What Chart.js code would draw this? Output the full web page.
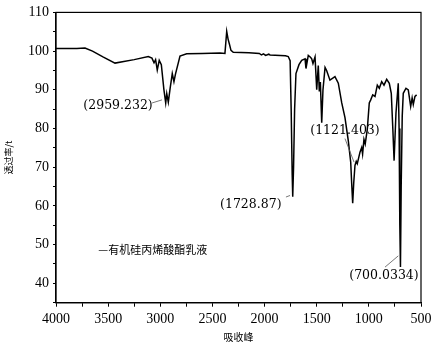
<!DOCTYPE html>
<html>
<head>
<meta charset="utf-8">
<script src="https://cdn.jsdelivr.net/npm/chart.js@4.4.0/dist/chart.umd.min.js"></script>
<style>
  html, body { margin: 0; padding: 0; background: #fff; }
  #wrap { width: 434px; height: 344px; position: relative; }
</style>
</head>
<body>
<div id="wrap"><canvas id="chart"></canvas></div>
<script>
// FTIR spectrum
const wavenumbers = [
  4000, 3900, 3800, 3722, 3650, 3550, 3434, 3350, 3250, 3115,
  3080, 3060, 3045, 3029, 3010, 2990, 2965, 2948, 2938, 2923,
  2905, 2885, 2869, 2855, 2811, 2747, 2600, 2427, 2380, 2363,
  2350, 2338, 2322, 2300, 2150, 2050, 2030, 2010, 1990, 1960,
  1948, 1800, 1773, 1755, 1745, 1735, 1730, 1722, 1712, 1699,
  1670, 1644, 1612, 1603, 1581, 1560, 1548, 1536, 1516, 1500,
  1485, 1475, 1465, 1452, 1440, 1420, 1405, 1373, 1325, 1293,
  1260, 1229, 1197, 1174, 1165, 1155, 1145, 1133, 1121, 1111,
  1085, 1069, 1060, 1047, 1035, 1015, 996, 982, 963, 941,
  919, 900, 877, 855, 829, 804, 785, 770, 758, 740,
  718, 710, 703, 697, 690, 680, 670, 644, 622, 599,
  585, 574, 558, 542
];
const transmittance = [
  100.7, 100.7, 100.7, 100.8, 100.0, 98.5, 96.9, 97.3, 97.8, 98.6,
  98.2, 97.0, 97.8, 95.1, 97.6, 96.5, 90.0, 86.6, 89.0, 86.8,
  90.5, 94.2, 92.1, 94.0, 98.7, 99.3, 99.4, 99.5, 99.4, 105.1,
  103.1, 101.9, 100.2, 99.7, 99.6, 99.4, 99.0, 99.3, 98.9, 99.2,
  99.0, 98.8, 98.6, 97.5, 85.0, 68.0, 62.4, 70.0, 85.0, 94.2,
  96.5, 97.6, 98.0, 95.5, 98.9, 98.4, 98.0, 96.8, 98.5, 90.0,
  96.3, 89.6, 92.0, 81.5, 90.0, 95.8, 95.0, 92.5, 93.4, 91.7,
  86.6, 82.8, 76.8, 71.3, 66.0, 60.7, 66.0, 70.5, 71.5, 70.9,
  73.9, 75.1, 73.4, 77.2, 76.0, 79.8, 86.6, 87.4, 88.7, 88.3,
  91.2, 90.4, 92.1, 91.2, 92.7, 91.7, 89.1, 79.8, 71.7, 84.0,
  91.7, 80.0, 55.0, 44.2, 65.0, 83.2, 89.1, 90.4, 90.0, 85.7,
  87.9, 86.2, 88.3, 88.7
];

// peak labels: text, text centre [wn, T], leader from [wn, T] to [wn, T]
const peakLabels = ['(2959.232)', '(1728.87)', '(1121.403)', '(700.0334)'];
const labelAt = [[3405, 85.9], [2132, 60.3], [1229, 79.4], [855, 42.0]];
const leaderFrom = [[3079, 86.6], [1795, 62.3], [1229, 77.4], [845, 44.2]];
const leaderTo = [[2984, 87.4], [1756, 62.7], [1142, 71.3], [718, 47.1]];

const seriesName = '—有机硅丙烯酸酯乳液';
const seriesNameAt = [3594, 48.7];

const serif = '"DejaVu Serif", "Liberation Serif", serif';
const tickSerif = '"Liberation Serif", serif';
const cjk = '"Noto Sans CJK SC", sans-serif';

const points = wavenumbers.map((w, i) => ({ x: w, y: transmittance[i] }));

const frameAndNotes = {
  id: 'frameAndNotes',
  afterDraw(chart) {
    const { ctx, chartArea: a, scales } = chart;
    const px = (p) => [scales.x.getPixelForValue(p[0]), scales.y.getPixelForValue(p[1])];
    ctx.save();
    ctx.strokeStyle = '#000';
    ctx.lineWidth = 1.2;
    ctx.strokeRect(a.left, a.top, a.right - a.left, a.bottom - a.top);

    ctx.strokeStyle = '#555';
    ctx.lineWidth = 0.8;
    leaderFrom.forEach((f, i) => {
      const p1 = px(f);
      const p2 = px(leaderTo[i]);
      ctx.beginPath();
      ctx.moveTo(p1[0], p1[1]);
      ctx.lineTo(p2[0], p2[1]);
      ctx.stroke();
    });

    ctx.fillStyle = '#000';
    ctx.font = '12.5px ' + serif;
    ctx.textAlign = 'center';
    ctx.textBaseline = 'middle';
    peakLabels.forEach((t, i) => {
      const p = px(labelAt[i]);
      ctx.fillText(t, p[0], p[1]);
    });

    ctx.font = '11px ' + cjk;
    ctx.textAlign = 'left';
    const n = px(seriesNameAt);
    ctx.fillText(seriesName, n[0], n[1]);
    ctx.restore();
  }
};

new Chart(document.getElementById('chart'), {
  type: 'line',
  data: {
    datasets: [{
      data: points,
      borderColor: '#000',
      borderWidth: 1.5,
      pointRadius: 0,
      tension: 0,
      fill: false
    }]
  },
  options: {
    responsive: true,
    maintainAspectRatio: false,
    animation: false,
    devicePixelRatio: 1,
    layout: { padding: { left: 0, right: 13, top: 8, bottom: 0 } },
    plugins: {
      legend: { display: false },
      tooltip: { enabled: false }
    },
    scales: {
      x: {
        type: 'linear',
        reverse: true,
        min: 500,
        max: 4000,
        afterBuildTicks: (s) => {
          s.ticks = [];
          for (let v = 500; v <= 4000; v += 250) s.ticks.push({ value: v });
        },
        afterFit: (s) => { s.height = 41.3; },
        ticks: {
          color: '#000',
          font: { family: tickSerif, size: 14 },
          padding: 4,
          maxRotation: 0,
          autoSkip: false,
          callback: (v) => (v % 500 === 0 ? v : '')
        },
        grid: { drawOnChartArea: false, tickLength: 4, color: '#000', tickWidth: 1 },
        border: { display: true, color: '#000', width: 1.2 },
        title: {
          display: true,
          text: '吸收峰',
          color: '#000',
          font: { family: cjk, size: 10 },
          padding: { top: 1, bottom: 1 }
        }
      },
      y: {
        min: 35,
        max: 110,
        afterBuildTicks: (s) => {
          s.ticks = [];
          for (let v = 35; v <= 110; v += 5) s.ticks.push({ value: v });
        },
        afterFit: (s) => { s.width = 56; },
        ticks: {
          color: '#000',
          font: { family: tickSerif, size: 14 },
          padding: 4,
          autoSkip: false,
          callback: (v) => (v % 10 === 0 ? v : '')
        },
        grid: { drawOnChartArea: false, tickLength: 3, color: '#000', tickWidth: 1 },
        border: { display: true, color: '#000', width: 1.2 },
        title: {
          display: true,
          text: '透过率/t',
          color: '#000',
          font: { family: cjk, size: 9 },
          padding: { top: 3, bottom: 0 }
        }
      }
    }
  },
  plugins: [frameAndNotes]
});
</script>
</body>
</html>
